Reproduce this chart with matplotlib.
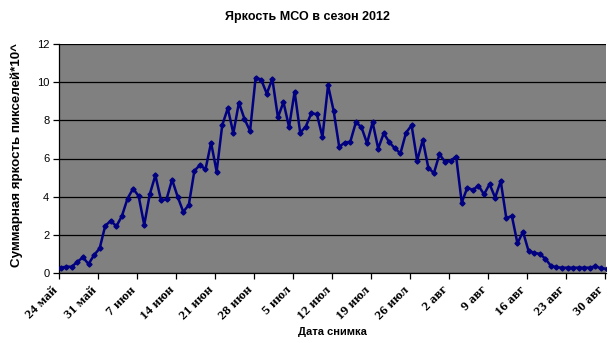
import numpy as np
import matplotlib
matplotlib.use("Agg")
import matplotlib.pyplot as plt
from matplotlib.transforms import ScaledTranslation

title = "Яркость МСО в сезон 2012"
xlabel = "Дата снимка"
ylabel = "Суммарная яркость пикселей*10^"

tick_labels = ["24 май", "31 май", "7 июн", "14 июн", "21 июн", "28 июн", "5 июл",
               "12 июл", "19 июл", "26 июл", "2 авг", "9 авг", "16 авг", "23 авг", "30 авг"]

# daily values starting 24 May 2012
values = [0.28, 0.33, 0.33, 0.59, 0.82, 0.47, 0.94, 1.29, 2.48, 2.73,
          2.45, 2.99, 3.90, 4.42, 4.03, 2.52, 4.13, 5.12, 3.83, 3.86,
          4.89, 4.00, 3.21, 3.56, 5.35, 5.66, 5.43, 6.83, 5.31, 7.74,
          8.63, 7.32, 8.93, 8.07, 7.44, 10.24, 10.13, 9.40, 10.17, 8.16,
          8.95, 7.65, 9.50, 7.35, 7.67, 8.37, 8.32, 7.13, 9.84, 8.50,
          6.62, 6.83, 6.88, 7.90, 7.64, 6.80, 7.90, 6.52, 7.32, 6.85,
          6.53, 6.27, 7.35, 7.74, 5.89, 6.97, 5.52, 5.23, 6.22, 5.83,
          5.89, 6.10, 3.69, 4.47, 4.35, 4.58, 4.12, 4.66, 3.95, 4.82,
          2.87, 2.99, 1.56, 2.16, 1.15, 1.06, 1.00, 0.75, 0.38, 0.30,
          0.28, 0.28, 0.28, 0.28, 0.28, 0.28, 0.35, 0.25, 0.22]

days = np.arange(len(values)) + 0.3  # observation time within each day
tick_pos = np.arange(0, 7 * len(tick_labels), 7)

fig = plt.figure(figsize=(6.08, 3.43), dpi=100)
ax = fig.add_axes([59/608, 70/343, 547/608, 229/343])
ax.set_facecolor("#808080")

ax.plot(days, values, color="#000080", lw=1.8, marker="D", ms=2.6,
        markeredgecolor="#000080", markerfacecolor="#000080", zorder=3)

ax.set_xlim(0, 98.2)
ax.set_ylim(0, 12)
ax.set_yticks(np.arange(0, 13, 2))
ax.yaxis.grid(True, color="black", lw=0.9)
ax.set_axisbelow(True)

for s in ["top", "right"]:
    ax.spines[s].set_visible(False)
for s in ["left", "bottom"]:
    ax.spines[s].set_color("black")
    ax.spines[s].set_linewidth(0.9)

ax.tick_params(axis="y", direction="out", length=4, width=0.9, labelsize=8, pad=3)
ax.tick_params(axis="x", direction="out", length=4, width=0.9, pad=7)
for lab in ax.get_yticklabels():
    lab.set_fontfamily("Liberation Sans")

ax.set_xticks(tick_pos)
ax.set_xticklabels(tick_labels, rotation=45, ha="right", va="center",
                   rotation_mode="anchor", fontfamily="Liberation Serif",
                   fontweight="bold", fontsize=9.5)
shift = ScaledTranslation(-3/100, 0, fig.dpi_scale_trans)
for lab in ax.get_xticklabels():
    lab.set_transform(lab.get_transform() + shift)

ax.set_xlabel(xlabel, fontfamily="Liberation Sans", fontweight="bold", fontsize=8, labelpad=3)
ax.set_ylabel(ylabel, fontfamily="Liberation Sans", fontweight="bold", fontsize=9.6, labelpad=6)
ax.yaxis.set_label_coords(-0.065, 0.515)
fig.text(0.505, 1 - 17/343, title, ha="center", va="center",
         fontfamily="Liberation Sans", fontweight="bold", fontsize=9)

fig.savefig("out.png", dpi=100, facecolor="white")
